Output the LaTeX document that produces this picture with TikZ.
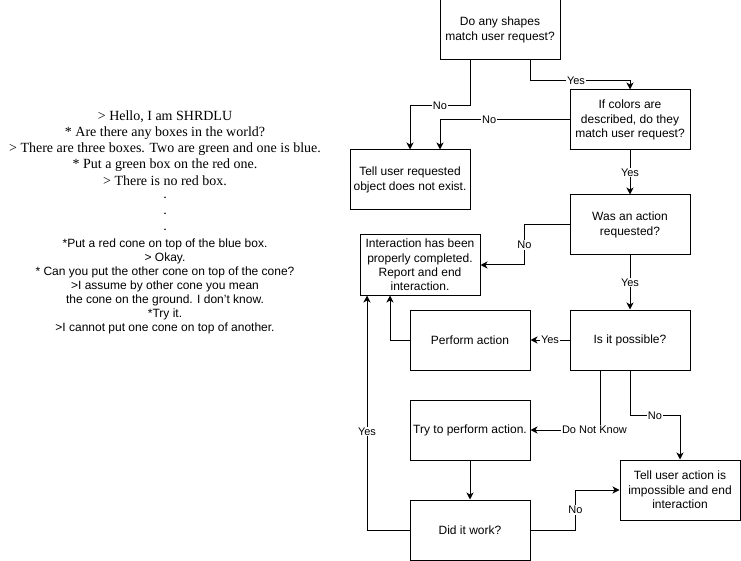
\documentclass[tikz,border=0pt]{standalone}
\usepackage{fontspec}
\setmainfont{Liberation Sans}
\newfontfamily\chatserif{Liberation Serif}
\usepackage{tikz}
\usetikzlibrary{arrows.meta}
\usetikzlibrary{calc}
\tikzset{
 box/.style={draw, line width=1pt, minimum width=120pt, minimum height=60pt, inner sep=1pt, align=center, font=\fontsize{12}{14.4}\selectfont},
 lab/.style={fill=white, inner sep=1pt, font=\fontsize{11}{13}\selectfont},
 flow/.style={line width=1pt, -{Stealth[length=7pt,width=7pt,inset=2pt]}}
}

\begin{document}
\begin{tikzpicture}[x=1pt,y=-1pt]
\useasboundingbox (0,0) rectangle (741,561);
% the dialogue
\foreach \txt [count=\i] in {{> Hello, I am SHRDLU}, {* Are there any boxes in the world?}, {> There are three boxes. Two are green and one is blue.}, {* Put a green box on the red one.}, {> There is no red box.}} {
 \node[font=\chatserif\fontsize{14}{16}\selectfont, inner sep=0] (say\i) at (165, 101+16*\i) {\txt};
}
\foreach \y [count=\i] in {198,214,230} {
 \node[font=\chatserif\fontsize{14}{16}\selectfont, inner sep=0] (dot\i) at (165,\y) {.};
}
\foreach \txt [count=\i] in {{*Put a red cone on top of the blue box.}, {> Okay.}, {* Can you put the other cone on top of the cone?}, {>I assume by other cone you mean}, {the cone on the ground. I don't know.}, {*Try it.}, {>I cannot put one cone on top of another.}} {
 \node[font=\fontsize{12}{14}\selectfont, inner sep=0] (reply\i) at (165, 230+14*\i) {\txt};
}
% the flow chart
\node[box] (shapes) at (500,30) {Do any shapes\\match user request?};
\node[box] (colors) at (630,120) {If colors are\\described, do they\\match user request?};
\node[box] (noobj) at (410,180) {Tell user requested\\object does not exist.};
\node[box] (asked) at (630,225) {Was an action\\requested?};
\node[box] (done) at (420,265) {Interaction has been\\properly completed.\\Report and end\\interaction.};
\node[box] (perform) at (470,340) {Perform action};
\node[box] (possible) at (630,340) {Is it possible?};
\node[box] (try) at (470,430) {Try to perform action.};
\node[box] (noway) at (680,490) {Tell user action is\\impossible and end\\interaction};
\node[box] (worked) at (470,530) {Did it work?};

\draw[flow] ([xshift=-30pt]shapes.south) -- ++(0,45) -| (noobj.north) node[lab, pos=.25]{No};
\draw[flow] ([xshift=30pt]shapes.south) -- ++(0,20) -| (colors.north) node[lab, pos=.23]{Yes};
\draw[flow] (colors.west) -| ([xshift=30pt]noobj.north) node[lab, pos=.31]{No};
\draw[flow] (colors) -- (asked) node[lab, midway]{Yes};
\draw[flow] (asked.west) -- ++(-45,0) |- (done.east) node[lab, pos=.25]{No};
\draw[flow] (asked) -- (possible) node[lab, midway]{Yes};
\draw[flow] (possible) -- (perform) node[lab, midway]{Yes};
\draw[flow] (perform.west) -| ([xshift=-30pt]done.south);
\draw[flow] ([xshift=-30pt]possible.south) |- (try.east) node[lab, pos=.54]{Do Not Know};
\draw[flow] (possible.south) -- ++(0,45) -| (noway.north) node[lab, pos=.25]{No};
\draw[flow] (try) -- (worked);
\draw[flow] (worked.east) -- ++(45,0) |- (noway.west) node[lab, pos=.25]{No};
\draw[flow] (worked.west) -| ([xshift=-53pt]done.south) node[lab, pos=.71]{Yes};
\end{tikzpicture}
\end{document}
